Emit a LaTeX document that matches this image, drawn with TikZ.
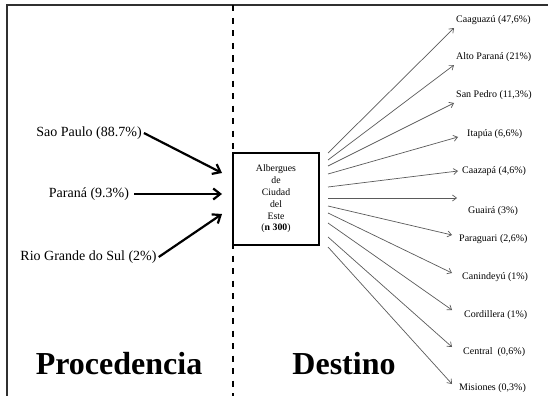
\documentclass[tikz,border=0pt]{standalone}
\usepackage{fontspec}
\setmainfont{Liberation Serif}
\usetikzlibrary{arrows.meta}
\definecolor{framegray}{HTML}{303030}
\definecolor{fangray}{HTML}{5A5A5A}
\tikzset{
  leftlab/.style={inner sep=0pt, font=\fontsize{14}{16}\selectfont},
  rightlab/.style={inner sep=0pt, anchor=west, font=\fontsize{10}{12}\selectfont},
  title/.style={inner sep=0pt, font=\fontsize{32}{35}\selectfont\bfseries},
  inarrow/.style={line width=2.2pt, -{Straight Barb[length=7pt,width=11pt,line width=2.2pt]}},
  outarrow/.style={draw=fangray, line width=0.7pt, -{Straight Barb[length=4pt,width=6pt,line width=0.7pt]}},
  hubbox/.style={draw, line width=1.8pt, minimum width=86pt, minimum height=92pt, inner sep=0pt, align=center, font=\fontsize{9.8}{11.8}\selectfont}
}
\begin{document}
\begin{tikzpicture}[x=1pt,y=-1pt]
\useasboundingbox (0,0) rectangle (548,396);
% frame
\draw[framegray, line width=2pt] (548,5.5) -- (6.5,5.5) -- (6.5,396);
\draw[line width=2pt, dash pattern=on 6pt off 6.5pt] (233,5.5) -- (233,396);
% hub
\node[hubbox, fill=white] (hub) at (276,199) {Albergues\\de\\Ciudad\\del\\Este\\(\textbf{n 300})};
% left labels
\node[leftlab] (sp) at (89,133) {Sao Paulo (88.7\%)};
\node[leftlab] (pr) at (89,194) {Paraná (9.3\%)};
\node[leftlab] (rg) at (88.5,257) {Rio Grande do Sul (2\%)};
\coordinate (spin) at (222,173);
\coordinate (prin) at (222,194);
\coordinate (rgin) at (222,214);
\draw[inarrow] (sp.east) ++(2,0) -- (spin);
\draw[inarrow] (pr.east) ++(5,0) -- (prin);
\draw[inarrow] (rg.east) ++(2,0) -- (rgin);
% right labels
\node[rightlab] (d1) at (456,20) {Caaguazú (47,6\%)};
\node[rightlab] (d2) at (456,57) {Alto Paraná (21\%)};
\node[rightlab] (d3) at (456,95) {San Pedro (11,3\%)};
\node[rightlab] (d4) at (467,134) {Itapúa (6,6\%)};
\node[rightlab] (d5) at (462,171) {Caazapá (4,6\%)};
\node[rightlab] (d6) at (468,211) {Guairá (3\%)};
\node[rightlab] (d7) at (459,239) {Paraguari (2,6\%)};
\node[rightlab] (d8) at (462,277) {Canindeyú (1\%)};
\node[rightlab] (d9) at (464,315) {Cordillera (1\%)};
\node[rightlab] (d10) at (463,352) {Central\ \ (0,6\%)};
\node[rightlab] (d11) at (459,388) {Misiones (0,3\%)};
% arrow starts (right of hub) and ends
\foreach \i/\ys/\xe/\ye in {1/153/454/28, 2/160/454/65, 3/166/454/103, 4/174/458/137, 5/187/458/171, 6/198/457/198, 7/206/452/235, 8/213/452/273, 9/223/452/310, 10/237/452/347, 11/247/452/384}{
  \coordinate (s\i) at (328,\ys);
  \coordinate (e\i) at (\xe,\ye);
  \draw[outarrow] (s\i) -- (e\i);
}
% titles
\node[title] (proc) at (119,364) {Procedencia};
\node[title] (dest) at (344,364) {Destino};
\end{tikzpicture}
\end{document}
